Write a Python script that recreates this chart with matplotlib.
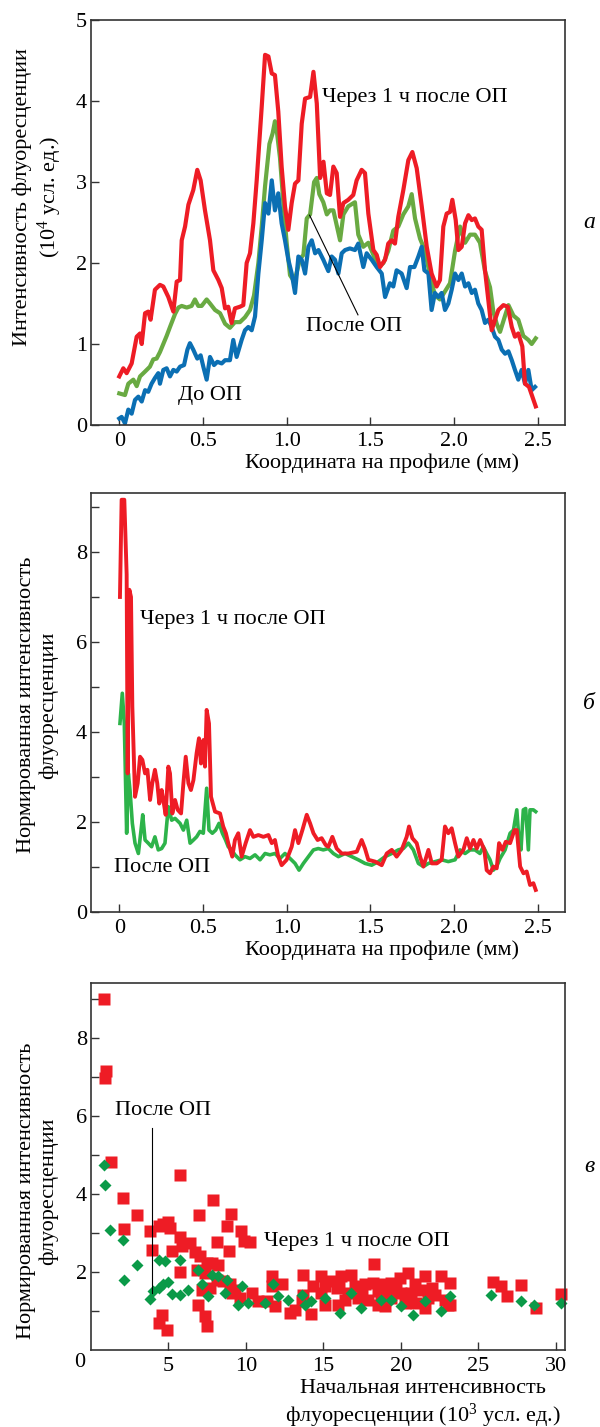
import matplotlib
matplotlib.use("Agg")
import matplotlib.pyplot as plt

plt.rcParams['font.family'] = ['Liberation Serif', 'DejaVu Serif']
plt.rcParams['mathtext.fontset'] = 'custom'
plt.rcParams['mathtext.rm'] = 'Liberation Serif'
plt.rcParams['mathtext.it'] = 'Liberation Serif:italic'

# --- profiles along the line (a) ---
red_a_x = [0.0, 0.024, 0.044, 0.074, 0.104, 0.124, 0.134, 0.154, 0.173, 0.187, 0.213, 0.243,
           0.263, 0.293, 0.323, 0.343, 0.363, 0.373, 0.393, 0.413, 0.442, 0.466, 0.486, 0.512,
           0.542, 0.562, 0.592, 0.612, 0.632, 0.651, 0.671, 0.691, 0.721, 0.741, 0.761, 0.781,
           0.801, 0.821, 0.851, 0.871, 0.891, 0.911, 0.930, 0.950, 0.970, 0.990, 1.010, 1.030,
           1.050, 1.070, 1.090, 1.110, 1.140, 1.160, 1.180, 1.200, 1.220, 1.240, 1.259, 1.279,
           1.299, 1.319, 1.339, 1.368, 1.398, 1.418, 1.448, 1.468, 1.488, 1.518, 1.538, 1.558,
           1.588, 1.607, 1.627, 1.647, 1.667, 1.697, 1.727, 1.751, 1.777, 1.807, 1.837, 1.866,
           1.896, 1.916, 1.936, 1.956, 1.976, 1.990, 2.010, 2.026, 2.046, 2.066, 2.086, 2.106,
           2.125, 2.145, 2.165, 2.185, 2.205, 2.225, 2.245, 2.265, 2.295, 2.321, 2.345, 2.364,
           2.384, 2.408, 2.424, 2.448, 2.468, 2.488]
red_a_y = [0.60, 0.70, 0.64, 0.76, 1.09, 1.13, 1.00, 1.38, 1.40, 1.30, 1.67, 1.73,
           1.71, 1.58, 1.40, 1.77, 1.79, 2.28, 2.45, 2.72, 2.90, 3.15, 3.02, 2.65,
           2.28, 1.91, 1.79, 1.69, 1.44, 1.46, 1.26, 1.44, 1.46, 1.48, 2.00, 2.12,
           2.49, 3.02, 3.93, 4.57, 4.55, 4.34, 4.32, 3.87, 3.19, 2.70, 2.41, 2.74,
           2.98, 3.02, 3.72, 4.03, 4.05, 4.36, 3.97, 3.05, 3.25, 2.86, 2.84, 3.19,
           3.11, 2.57, 2.74, 2.78, 2.84, 3.02, 3.15, 3.11, 2.61, 2.16, 2.10, 1.95,
           2.04, 2.24, 2.28, 2.24, 2.57, 2.90, 3.27, 3.37, 3.17, 2.70, 2.20, 1.87,
           1.71, 1.79, 2.45, 2.61, 2.63, 2.78, 2.53, 2.16, 2.20, 2.49, 2.59, 2.53,
           2.55, 2.45, 2.41, 1.91, 1.54, 1.17, 1.30, 1.42, 1.48, 1.46, 1.21, 1.09,
           1.13, 0.97, 0.51, 0.47, 0.35, 0.23]

green_a_x = [0.0, 0.034, 0.054, 0.084, 0.104, 0.124, 0.154, 0.183, 0.203, 0.223, 0.243, 0.263,
             0.283, 0.303, 0.333, 0.353, 0.373, 0.403, 0.432, 0.452, 0.472, 0.492, 0.522, 0.542,
             0.572, 0.602, 0.632, 0.661, 0.691, 0.721, 0.751, 0.781, 0.805, 0.831, 0.851, 0.871,
             0.897, 0.916, 0.930, 0.940, 0.960, 0.980, 1.000, 1.020, 1.036, 1.056, 1.080, 1.100,
             1.120, 1.140, 1.164, 1.180, 1.195, 1.219, 1.240, 1.259, 1.279, 1.319, 1.339, 1.368,
             1.408, 1.428, 1.458, 1.488, 1.518, 1.548, 1.578, 1.607, 1.637, 1.667, 1.697, 1.727,
             1.747, 1.767, 1.797, 1.827, 1.856, 1.886, 1.916, 1.946, 1.976, 2.006, 2.036, 2.066,
             2.096, 2.125, 2.155, 2.185, 2.215, 2.235, 2.255, 2.275, 2.305, 2.325, 2.355, 2.384,
             2.414, 2.444, 2.464, 2.488]
green_a_y = [0.39, 0.37, 0.51, 0.56, 0.48, 0.60, 0.66, 0.72, 0.81, 0.82, 0.90, 1.00,
             1.10, 1.21, 1.37, 1.45, 1.47, 1.45, 1.47, 1.55, 1.47, 1.47, 1.55, 1.50,
             1.42, 1.38, 1.25, 1.20, 1.27, 1.27, 1.33, 1.42, 1.60, 2.00, 2.45, 2.95,
             3.47, 3.60, 3.75, 3.65, 3.30, 2.75, 2.25, 1.85, 1.80, 1.85, 2.05, 2.10,
             2.55, 2.60, 3.00, 3.05, 2.85, 2.75, 2.60, 2.65, 2.65, 2.28, 2.60, 2.70,
             2.75, 2.35, 2.20, 2.25, 2.10, 1.95, 2.00, 2.15, 2.40, 2.45, 2.60, 2.70,
             2.85, 2.55, 2.30, 2.15, 1.85, 1.60, 1.55, 1.65, 1.75, 2.15, 2.45, 2.25,
             2.35, 2.35, 2.25, 1.90, 1.70, 1.40, 1.25, 1.15, 1.35, 1.48, 1.35, 1.30,
             1.10, 1.05, 1.00, 1.07]

blue_a_x = [0.0, 0.014, 0.034, 0.054, 0.074, 0.094, 0.114, 0.134, 0.154, 0.173, 0.193, 0.213,
            0.233, 0.243, 0.263, 0.283, 0.303, 0.323, 0.343, 0.363, 0.387, 0.407, 0.422, 0.442,
            0.466, 0.486, 0.502, 0.522, 0.542, 0.566, 0.586, 0.612, 0.632, 0.661, 0.681, 0.701,
            0.731, 0.751, 0.771, 0.791, 0.811, 0.831, 0.851, 0.871, 0.891, 0.911, 0.930, 0.950,
            0.970, 0.990, 1.010, 1.030, 1.050, 1.070, 1.090, 1.110, 1.130, 1.150, 1.170, 1.190,
            1.219, 1.249, 1.269, 1.289, 1.309, 1.329, 1.349, 1.378, 1.408, 1.428, 1.458, 1.478,
            1.508, 1.538, 1.568, 1.588, 1.617, 1.637, 1.657, 1.687, 1.717, 1.737, 1.763, 1.787,
            1.807, 1.823, 1.847, 1.866, 1.886, 1.906, 1.926, 1.946, 1.966, 1.986, 2.006, 2.026,
            2.046, 2.066, 2.086, 2.106, 2.125, 2.145, 2.165, 2.185, 2.205, 2.225, 2.245, 2.265,
            2.285, 2.305, 2.325, 2.345, 2.364, 2.384, 2.404, 2.424, 2.444, 2.464, 2.484]
blue_a_y = [0.08, 0.10, 0.02, 0.19, 0.14, 0.31, 0.35, 0.29, 0.43, 0.41, 0.51, 0.58,
            0.64, 0.51, 0.68, 0.70, 0.60, 0.68, 0.66, 0.72, 0.74, 0.93, 1.01, 0.93,
            0.82, 0.86, 0.72, 0.56, 0.84, 0.74, 0.78, 0.76, 0.80, 0.80, 1.05, 0.84,
            1.05, 1.17, 1.21, 1.17, 1.34, 1.87, 2.28, 2.74, 2.61, 3.02, 2.65, 2.86,
            2.49, 2.28, 2.04, 1.87, 1.63, 2.08, 2.04, 1.87, 2.20, 2.28, 2.12, 2.16,
            2.04, 1.90, 2.08, 2.04, 1.87, 2.12, 2.16, 2.18, 2.16, 2.24, 1.95, 2.12,
            2.04, 1.95, 1.87, 1.58, 1.75, 1.71, 1.91, 1.87, 1.69, 1.95, 1.95, 2.08,
            2.20, 1.91, 1.87, 1.42, 1.63, 1.58, 1.63, 1.42, 1.50, 1.67, 1.87, 1.79,
            1.87, 1.71, 1.75, 1.63, 1.67, 1.50, 1.42, 1.26, 1.30, 1.21, 1.09, 1.05,
            0.93, 0.88, 0.91, 0.80, 0.68, 0.56, 0.68, 0.51, 0.68, 0.43, 0.47]

# --- normalized profiles (b) ---
red_b_x = [0.004, 0.014, 0.030, 0.044, 0.050, 0.060, 0.070, 0.078, 0.094, 0.110, 0.124, 0.138,
           0.154, 0.168, 0.184, 0.197, 0.213, 0.227, 0.239, 0.253, 0.263, 0.277, 0.293, 0.303,
           0.317, 0.333, 0.349, 0.369, 0.383, 0.397, 0.413, 0.428, 0.443, 0.462, 0.476, 0.488,
           0.502, 0.512, 0.522, 0.536, 0.548, 0.572, 0.602, 0.621, 0.637, 0.651, 0.675, 0.691,
           0.711, 0.731, 0.755, 0.781, 0.801, 0.831, 0.861, 0.891, 0.911, 0.930, 0.950, 0.970,
           1.000, 1.030, 1.050, 1.070, 1.094, 1.120, 1.140, 1.160, 1.185, 1.209, 1.233, 1.249,
           1.273, 1.299, 1.329, 1.369, 1.419, 1.448, 1.468, 1.488, 1.528, 1.568, 1.598, 1.628,
           1.657, 1.687, 1.717, 1.731, 1.751, 1.777, 1.797, 1.817, 1.847, 1.867, 1.897, 1.926,
           1.946, 1.966, 1.986, 2.006, 2.026, 2.056, 2.076, 2.096, 2.116, 2.136, 2.156, 2.181,
           2.195, 2.215, 2.235, 2.255, 2.269, 2.289, 2.309, 2.335, 2.361, 2.375, 2.395, 2.415,
           2.434, 2.454, 2.474, 2.488]
red_b_y = [7.00, 9.16, 9.16, 7.50, 3.08, 7.16, 7.00, 4.56, 2.56, 2.86, 3.45, 3.38,
           3.08, 3.16, 2.49, 2.86, 3.16, 2.86, 2.41, 2.71, 2.49, 2.16, 3.23, 3.08,
           2.19, 2.49, 2.27, 2.19, 2.86, 3.45, 2.86, 2.71, 2.93, 3.53, 3.86, 3.30,
           3.82, 3.23, 4.49, 4.19, 2.56, 2.23, 2.19, 1.90, 1.75, 1.53, 1.23, 1.60,
           1.75, 1.23, 1.53, 1.82, 1.67, 1.71, 1.67, 1.71, 1.53, 1.60, 1.23, 1.04,
           1.16, 1.45, 1.82, 1.53, 1.82, 2.16, 1.97, 1.75, 1.60, 1.64, 1.49, 1.45,
           1.67, 1.41, 1.30, 1.30, 1.34, 1.60, 1.41, 1.16, 1.12, 1.04, 1.30, 1.38,
           1.23, 1.38, 1.67, 1.90, 1.64, 1.53, 1.23, 1.01, 1.38, 1.08, 1.08, 1.16,
           1.90, 1.75, 1.86, 1.53, 1.23, 1.38, 1.64, 1.41, 1.60, 1.41, 1.60, 1.38,
           0.93, 0.86, 1.01, 0.97, 1.53, 1.38, 1.56, 1.53, 1.82, 1.82, 1.01, 0.86,
           0.90, 0.60, 0.64, 0.49]

green_b_x = [0.004, 0.018, 0.030, 0.044, 0.054, 0.064, 0.078, 0.094, 0.114, 0.130, 0.140, 0.154,
             0.173, 0.193, 0.213, 0.233, 0.253, 0.273, 0.293, 0.313, 0.333, 0.363, 0.383, 0.403,
             0.423, 0.443, 0.462, 0.482, 0.502, 0.522, 0.536, 0.556, 0.576, 0.596, 0.616, 0.635,
             0.651, 0.671, 0.691, 0.721, 0.751, 0.781, 0.811, 0.841, 0.871, 0.900, 0.930, 0.960,
             0.990, 1.020, 1.050, 1.074, 1.100, 1.130, 1.160, 1.189, 1.219, 1.249, 1.279, 1.309,
             1.349, 1.389, 1.428, 1.468, 1.508, 1.548, 1.588, 1.628, 1.667, 1.697, 1.727, 1.757,
             1.787, 1.817, 1.847, 1.887, 1.926, 1.966, 2.006, 2.036, 2.066, 2.096, 2.125, 2.155,
             2.175, 2.195, 2.215, 2.235, 2.255, 2.275, 2.305, 2.335, 2.355, 2.375, 2.388, 2.400,
             2.414, 2.428, 2.444, 2.454, 2.474, 2.488]
green_b_y = [4.19, 4.86, 4.19, 1.75, 3.08, 2.71, 1.97, 1.53, 1.30, 1.82, 2.16, 1.60,
             1.53, 1.45, 1.67, 1.38, 1.41, 1.53, 2.34, 2.04, 2.08, 1.97, 1.82, 2.04,
             1.53, 1.60, 1.67, 1.79, 1.75, 2.75, 1.82, 1.75, 1.82, 1.97, 1.75, 1.60,
             1.45, 1.38, 1.27, 1.16, 1.23, 1.19, 1.27, 1.16, 1.30, 1.27, 1.30, 1.19,
             1.30, 1.19, 1.08, 0.93, 1.08, 1.23, 1.38, 1.41, 1.38, 1.41, 1.30, 1.23,
             1.30, 1.23, 1.16, 1.08, 1.04, 1.12, 1.23, 1.30, 1.38, 1.41, 1.53, 1.38,
             1.08, 1.01, 1.08, 1.12, 1.16, 1.12, 1.16, 1.38, 1.30, 1.38, 1.38, 1.30,
             1.45, 1.30, 1.16, 0.93, 1.01, 1.19, 1.38, 1.75, 1.82, 2.27, 1.60, 1.38,
             2.27, 2.30, 1.38, 2.27, 2.27, 2.23]

# --- normalized vs. initial intensity (c) ---
red_c_x = [0.81, 0.96, 0.92, 1.28, 5.75, 2.04, 7.86, 2.96, 6.98, 9.04, 2.14, 3.82,
           4.36, 4.68, 4.96, 5.10, 8.76, 9.68, 5.75, 3.93, 9.90, 10.26, 8.11, 5.21,
           5.86, 6.40, 8.91, 6.72, 7.04, 7.47, 7.79, 8.22, 5.75, 6.83, 7.36, 18.27,
           8.11, 8.54, 8.97, 9.30, 7.15, 7.68, 11.66, 12.30, 11.66, 13.70, 14.88, 15.52,
           16.17, 16.81, 14.34, 15.10, 15.85, 17.03, 17.67, 18.21, 18.75, 19.39, 19.93, 20.46,
           21.54, 22.61, 23.15, 25.94, 26.48, 27.77, 30.34, 26.87, 28.73, 10.37, 10.80, 11.34,
           11.87, 12.84, 13.16, 14.19, 13.70, 15.10, 15.95, 16.38, 17.24, 17.88, 18.53, 18.96,
           19.39, 20.04, 20.68, 21.00, 21.54, 21.75, 22.18, 23.04, 14.88, 16.60, 18.53, 6.93,
           7.36, 7.47, 4.57, 4.36, 4.89, 9.62, 9.08, 13.59, 22.83, 20.25, 18.75, 23.15,
           19.00, 19.70, 21.30, 17.50, 16.00, 20.90, 22.00]
red_c_y = [9.01, 7.15, 6.97, 4.81, 4.48, 3.90, 3.85, 3.47, 3.47, 3.49, 3.09, 3.06,
           3.17, 3.24, 3.27, 3.12, 3.17, 3.04, 2.91, 2.57, 2.79, 2.76, 2.76, 2.53,
           2.66, 2.74, 2.53, 2.50, 2.40, 2.23, 2.23, 2.19, 1.99, 2.06, 1.97, 2.21,
           1.80, 1.76, 1.68, 1.55, 1.55, 1.59, 1.89, 1.68, 1.63, 1.93, 1.91, 1.76,
           1.89, 1.93, 1.63, 1.63, 1.59, 1.63, 1.68, 1.72, 1.68, 1.72, 1.85, 1.97,
           1.89, 1.91, 1.72, 1.74, 1.63, 1.66, 1.44, 1.38, 1.08, 1.46, 1.25, 1.25,
           1.14, 0.95, 1.03, 0.93, 1.42, 1.16, 1.16, 1.29, 1.33, 1.29, 1.16, 1.12,
           1.33, 1.46, 1.46, 1.21, 1.08, 1.33, 1.42, 1.16, 1.46, 1.46, 1.50, 1.16,
           0.86, 0.61, 0.91, 0.69, 0.52, 1.33, 1.46, 1.25, 1.29, 1.21, 1.42, 1.16,
           1.55, 1.60, 1.55, 1.50, 1.75, 1.70, 1.60]

green_c_x = [0.81, 0.92, 1.24, 2.04, 2.96, 2.14, 3.82, 4.03, 4.36, 4.68, 5.00, 5.21,
             5.75, 6.29, 4.36, 4.78, 5.75, 6.93, 7.15, 7.58, 7.79, 8.22, 8.76, 8.65,
             9.51, 9.73, 10.15, 11.23, 12.73, 13.81, 15.10, 16.06, 17.46, 18.75, 20.04, 20.78,
             22.61, 23.15, 25.83, 27.77, 28.63, 30.34, 11.77, 13.59, 14.23, 16.81, 19.39, 21.54,
             12.09]
green_c_y = [4.75, 4.24, 3.07, 2.81, 2.19, 1.80, 1.31, 1.50, 1.59, 1.68, 1.74, 1.44,
             1.42, 1.55, 2.32, 2.27, 2.32, 2.06, 1.68, 1.38, 1.93, 1.89, 1.80, 1.46,
             1.16, 1.63, 1.21, 1.21, 1.29, 1.16, 1.33, 0.95, 1.08, 1.29, 1.12, 0.91,
             0.99, 1.39, 1.40, 1.25, 1.16, 1.21, 1.68, 1.42, 1.25, 1.46, 1.29, 1.25,
             1.38]

RED = '#ee1c25'
GREEN_A = '#69aa42'
GREEN_B = '#2db34a'
GREEN_C = '#0a9a48'
BLUE = '#0b6fb3'

after_1h = 'Через 1 ч после ОП'
after = 'После ОП'
profile_label = 'Координата на профиле (мм)'
norm_label = 'Нормированная интенсивность\nфлуоресценции'
profile_ticks = [0, 0.5, 1.0, 1.5, 2.0, 2.5]
profile_ticklabels = ['0', '0.5', '1.0', '1.5', '2.0', '2.5']

W, H = 600, 1427
FS = 16
fig = plt.figure(figsize=(W / 100, H / 100), dpi=100)


def add_axes(left, top, right, bottom):
    # pixel box -> figure fraction
    return fig.add_axes([left / W, 1 - bottom / H, (right - left) / W, (bottom - top) / H])


def style_axes(ax):
    for s in ax.spines.values():
        s.set_color('#333333')
        s.set_linewidth(1.2)
    ax.tick_params(which='both', direction='in', length=6, width=1.0, color='#333333',
                   labelsize=FS, top=False, right=False)
    ax.tick_params(axis='x', pad=5)
    ax.tick_params(axis='y', pad=3)


# ---------------- a ----------------
ax1 = add_axes(91, 20, 565, 425)
style_axes(ax1)
ax1.plot(green_a_x, green_a_y, color=GREEN_A, lw=3)
ax1.plot(blue_a_x, blue_a_y, color=BLUE, lw=3)
ax1.plot(red_a_x, red_a_y, color=RED, lw=3)
ax1.set_xlim(-0.169, 2.663)
ax1.set_ylim(0, 5)
ax1.set_xticks(profile_ticks, profile_ticklabels)
ax1.set_yticks([0, 1, 2, 3, 4, 5])
ax1.text(1.21, 4.04, after_1h, fontsize=FS, va='center')
ax1.text(1.115, 1.21, after, fontsize=FS, va='center')
ax1.text(0.35, 0.37, 'До ОП', fontsize=FS, va='center')
ax1.plot([1.137, 1.426], [2.59, 1.36], color='black', lw=0.8)
ax1.set_xlabel(profile_label, fontsize=FS, va='center')
ax1.xaxis.set_label_coords(0.614, -0.094)
ax1.set_ylabel('Интенсивность флуоресценции\n(10$^4$ усл. ед.)', fontsize=FS,
               va='center', ha='center', linespacing=1.2)
ax1.yaxis.set_label_coords(-0.112, 0.563)

# ---------------- b ----------------
ax2 = add_axes(91, 493, 565, 912)
style_axes(ax2)
ax2.plot(green_b_x, green_b_y, color=GREEN_B, lw=2.6)
ax2.plot(red_b_x, red_b_y, color=RED, lw=2.8)
ax2.set_xlim(-0.169, 2.663)
ax2.set_ylim(0, 9.31)
ax2.set_xticks(profile_ticks, profile_ticklabels)
ax2.set_yticks([0, 2, 4, 6, 8])
ax2.set_yticks([1, 3, 5, 7, 9], minor=True)
ax2.text(0.124, 6.49, after_1h, fontsize=FS, va='center')
ax2.text(-0.03, 0.98, after, fontsize=FS, va='center')
ax2.set_xlabel(profile_label, fontsize=FS, va='center')
ax2.xaxis.set_label_coords(0.614, -0.0907)
ax2.set_ylabel(norm_label, fontsize=FS, va='center', ha='center', linespacing=1.2)
ax2.yaxis.set_label_coords(-0.112, 0.494)

# ---------------- c ----------------
ax3 = add_axes(91, 983, 565, 1350)
style_axes(ax3)
ax3.plot(red_c_x, red_c_y, 's', color=RED, ms=8.5, mec='none', clip_on=False)
ax3.plot(green_c_x, green_c_y, 'D', color=GREEN_C, ms=6, mec='none', clip_on=False)
ax3.set_xlim(0, 30.6)
ax3.set_ylim(0, 9.41)
ax3.set_xticks([5, 10, 15, 20, 25, 30])
ax3.set_yticks([2, 4, 6, 8])
ax3.set_yticks([1, 3, 5, 7, 9], minor=True)
ax3.annotate('0', xy=(0, 0), xytext=(-8, -9), textcoords='offset points',
             ha='center', va='center', fontsize=FS)
ax3.text(1.54, 6.15, after, fontsize=FS, va='center')
ax3.plot([3.97, 3.97], [5.69, 1.46], color='black', lw=0.8)
ax3.text(11.18, 2.77, after_1h, fontsize=FS, va='center')
ax3.set_xlabel('Начальная интенсивность\nфлуоресценции (10$^3$ усл. ед.)', fontsize=FS,
               va='center', linespacing=1.15)
ax3.xaxis.set_label_coords(0.70, -0.1485)
ax3.set_ylabel(norm_label, fontsize=FS, va='center', ha='center', linespacing=1.2)
ax3.yaxis.set_label_coords(-0.112, 0.433)

# panel letters
for letter, y in [('а', 223), ('б', 703), ('в', 1167)]:
    fig.text(589 / W, 1 - y / H, letter, fontsize=17, style='italic', ha='center', va='center')

fig.savefig('out.png', dpi=100)
